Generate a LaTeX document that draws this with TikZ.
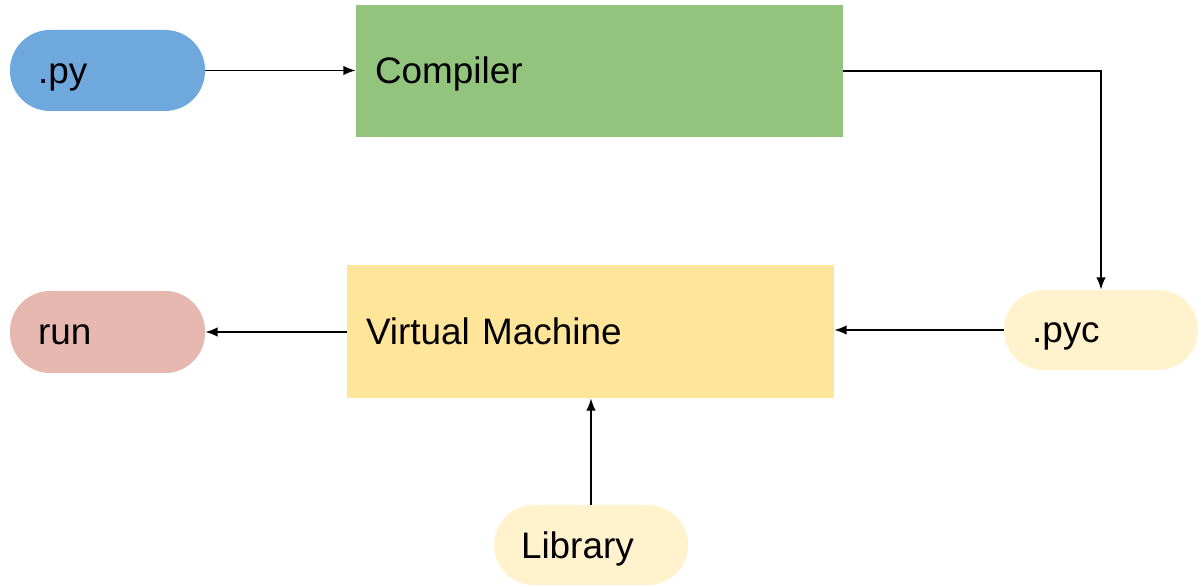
\documentclass[tikz,border=0pt]{standalone}
\usepackage{fontspec}
\setmainfont{Liberation Sans}
\usetikzlibrary{arrows.meta}
\newdimen\pxu
\pxu=0.02cm
\definecolor{srcblue}{HTML}{6FA8DC}
\definecolor{compgreen}{HTML}{93C47D}
\definecolor{vmyellow}{HTML}{FFE599}
\definecolor{paleyellow}{HTML}{FFF2CC}
\definecolor{runpink}{HTML}{E6B8AF}
\tikzset{
  box/.style={draw=none, rectangle, align=left, inner ysep=0pt,
    text height=14.8pt, text depth=0pt,
    font=\fontsize{21}{25}\selectfont},
  pill/.style={box, rounded corners=40\pxu},
  flow/.style={draw=black, line width=1pt, -{Latex[length=7pt,width=5.5pt]}}
}
\begin{document}
\begin{tikzpicture}[x=0.02cm, y=-0.02cm]
  \useasboundingbox (0,0) rectangle (1201,587);
  % sources and outputs
  \node[pill, fill=srcblue, inner xsep=28\pxu, text width=139\pxu, minimum height=81\pxu] (py) at (107.5,70.5) {.py};
  \node[box, fill=compgreen, inner xsep=19\pxu, text width=449\pxu, minimum height=132\pxu] (comp) at (599.5,71) {Compiler};
  \node[pill, fill=paleyellow, inner xsep=28\pxu, text width=138\pxu, minimum height=80\pxu] (pyc) at (1101,330) {.pyc};
  \node[box, fill=vmyellow, inner xsep=19\pxu, text width=449\pxu, minimum height=133\pxu] (vm) at (590.5,331.5) {Virtual Machine};
  \node[pill, fill=runpink, inner xsep=28\pxu, text width=139\pxu, minimum height=82\pxu] (run) at (107.5,332) {run};
  \node[pill, fill=paleyellow, inner xsep=27\pxu, text width=140\pxu, minimum height=80\pxu] (lib) at (591,545) {Library};
  % connectors
  \draw[flow] (py.east) -- (comp.west |- py.east);
  \draw[flow] (comp.east) -| (pyc.north);
  \draw[flow] (pyc.west) -- (vm.east |- pyc.west);
  \draw[flow] (vm.west |- run.east) -- (run.east);
  \draw[flow] (lib.north) -- (lib.north |- vm.south);
\end{tikzpicture}
\end{document}
